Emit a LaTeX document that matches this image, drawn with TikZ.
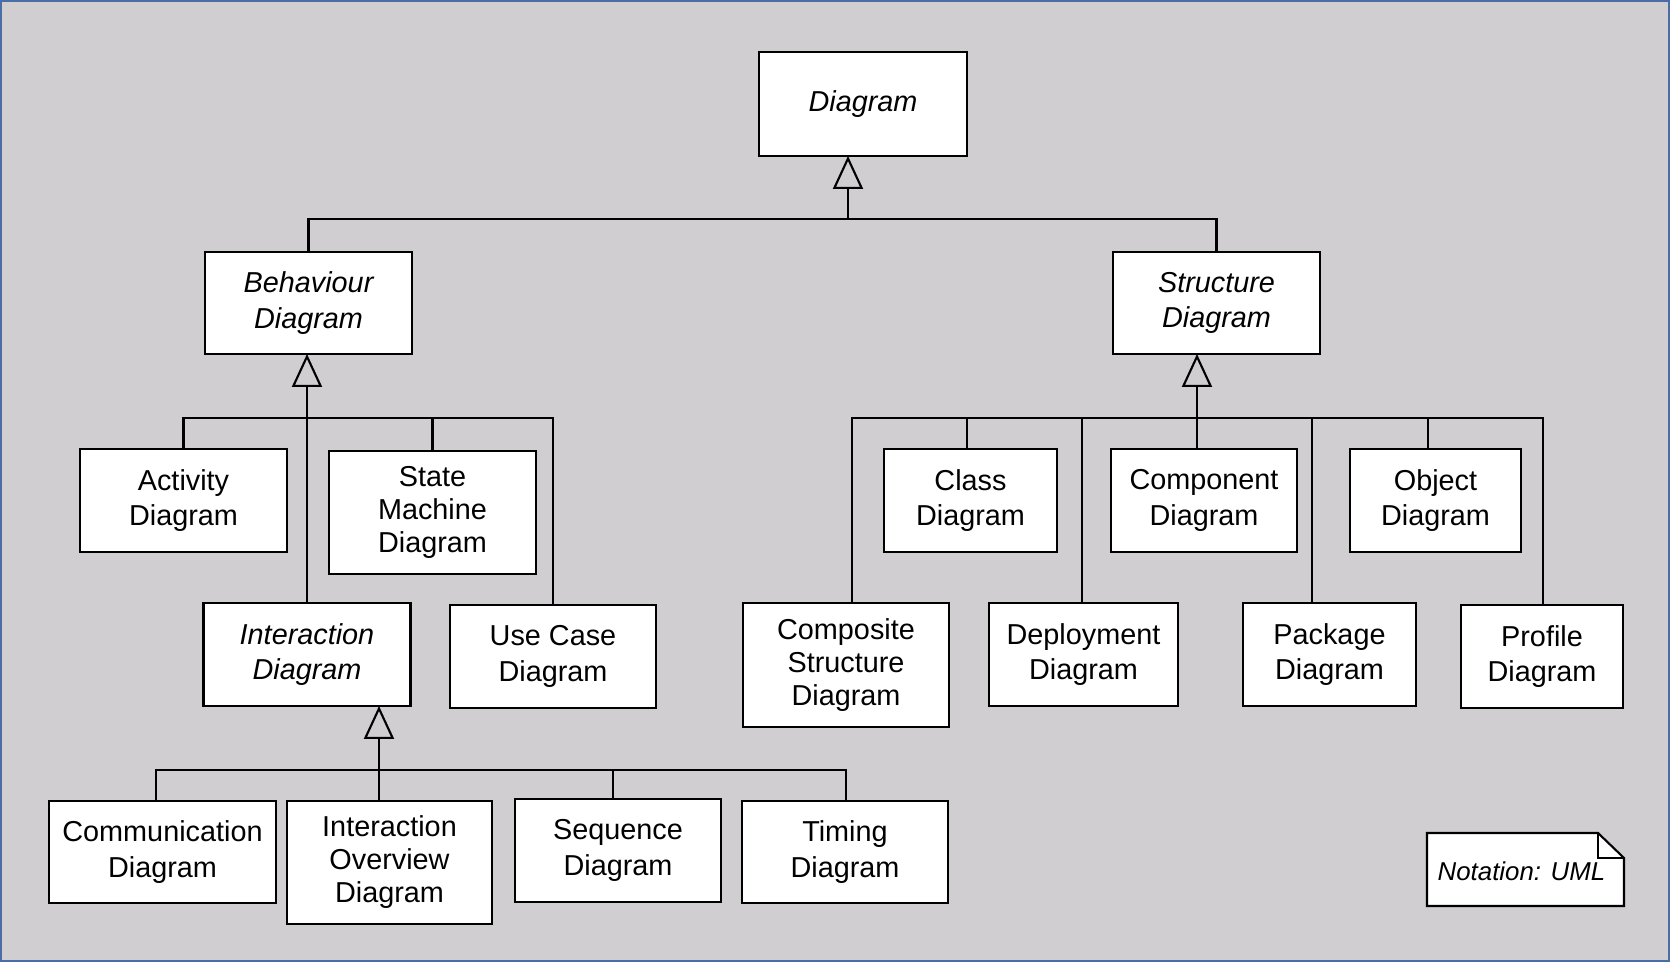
\documentclass[tikz,border=0pt]{standalone}
\usepackage{fontspec}
\setmainfont{Liberation Sans}
\usetikzlibrary{arrows.meta}
\definecolor{UMLBack}{HTML}{D0CED0}
\definecolor{UMLFrame}{HTML}{4A6DA7}

\begin{document}
\begin{tikzpicture}[x=1cm,y=1cm,
  cls/.style={draw,fill=white,line width=0.6pt,inner sep=0pt,outer sep=0pt,align=center,
    minimum height=1.03cm,font=\fontsize{8.2}{10}\selectfont},
  clsthree/.style={cls,font=\fontsize{8.2}{9.4}\selectfont},
  abstract/.style={cls,font=\fontsize{8.2}{10}\selectfont\itshape},
  link/.style={line width=0.6pt},
  gen/.style={link,-{Triangle[open,length=0.33cm,width=0.30cm]}}]
\path[use as bounding box] (0,0) rectangle (16.70,9.62);
\fill[UMLBack] (0,0) rectangle (16.70,9.62);
\draw[UMLFrame,line width=0.7pt] (0.0125,0.0125) rectangle (16.6875,9.6075);
\node[abstract,minimum width=2.08cm,minimum height=1.04cm] (diag) at (8.63,8.58) {Diagram};
\node[abstract,minimum width=2.07cm,minimum height=1.02cm] (behav) at (3.085,6.59) {Behaviour\\Diagram};
\node[abstract,minimum width=2.07cm,minimum height=1.02cm] (struct) at (12.165,6.59) {Structure\\Diagram};
\node[cls,minimum width=2.07cm] (activity) at (1.835,4.615) {Activity\\Diagram};
\node[clsthree,minimum width=2.07cm,minimum height=1.23cm] (statemach) at (4.325,4.495) {State\\Machine\\Diagram};
\node[abstract,minimum width=2.07cm] (inter) at (3.07,3.075) {Interaction\\Diagram};
\node[cls,minimum width=2.06cm] (usecase) at (5.53,3.055) {Use Case\\Diagram};
\node[cls,minimum width=2.27cm,minimum height=1.02cm] (commun) at (1.625,1.10) {Communication\\Diagram};
\node[clsthree,minimum width=2.05cm,minimum height=1.23cm] (overview) at (3.895,0.995) {Interaction\\Overview\\Diagram};
\node[cls,minimum width=2.06cm] (sequence) at (6.18,1.115) {Sequence\\Diagram};
\node[cls,minimum width=2.06cm,minimum height=1.02cm] (timing) at (8.45,1.10) {Timing\\Diagram};
\node[cls,minimum width=1.73cm] (class) at (9.705,4.615) {Class\\Diagram};
\node[cls,minimum width=1.86cm] (component) at (12.04,4.615) {Component\\Diagram};
\node[cls,minimum width=1.71cm] (object) at (14.355,4.615) {Object\\Diagram};
\node[clsthree,minimum width=2.06cm,minimum height=1.24cm] (composite) at (8.46,2.97) {Composite\\Structure\\Diagram};
\node[cls,minimum width=1.89cm] (deploy) at (10.835,3.075) {Deployment\\Diagram};
\node[cls,minimum width=1.73cm] (package) at (13.295,3.075) {Package\\Diagram};
\node[cls,minimum width=1.62cm] (profile) at (15.42,3.055) {Profile\\Diagram};
\coordinate (topbar) at (8.48,7.43);
\coordinate (bbar) at (3.07,5.44);
\coordinate (sbar) at (11.97,5.44);
\coordinate (ibar) at (3.79,1.92);
\draw[gen] (topbar) -- (diag.south -| topbar);
\draw[link] (behav.north) |- (topbar);
\draw[link] (struct.north) |- (topbar);
\draw[gen] (bbar) -- (behav.south -| bbar);
\draw[link] (activity.north) |- (bbar);
\draw[link] (statemach.north) |- (bbar);
\draw[link] (inter.north) -- (bbar);
\draw[link] (usecase.north) |- (bbar);
\draw[gen] (sbar) -- (struct.south -| sbar);
\draw[link] ([xshift=0.6mm]composite.north) |- (sbar);
\draw[link] ([xshift=-0.35mm]class.north) |- (sbar);
\draw[link] ([xshift=-0.15mm]deploy.north) |- (sbar);
\draw[link] ([xshift=-0.7mm]component.north) |- (sbar);
\draw[link] ([xshift=-1.75mm]package.north) |- (sbar);
\draw[link] ([xshift=-0.75mm]object.north) |- (sbar);
\draw[link] ([xshift=0.1mm]profile.north) |- (sbar);
\draw[gen] (ibar) -- (inter.south -| ibar);
\draw[link] ([xshift=-0.65mm]commun.north) |- (ibar);
\draw[link] ([xshift=-1.05mm]overview.north) |- (ibar);
\draw[link] ([xshift=-0.5mm]sequence.north) |- (ibar);
\draw[link] ([xshift=0.1mm]timing.north) |- (ibar);
\draw[fill=white,line width=0.6pt] (14.27,0.56) -- (14.27,1.29) -- (15.98,1.29) -- (16.24,1.04) -- (16.24,0.56) -- cycle;
\draw[line width=0.6pt] (15.98,1.29) -- (15.98,1.04) -- (16.24,1.04);
\node[anchor=base west,inner sep=0pt,font=\fontsize{7.35}{9}\selectfont\itshape] (notation) at (14.37,0.81) {Notation: UML};
\end{tikzpicture}
\end{document}
